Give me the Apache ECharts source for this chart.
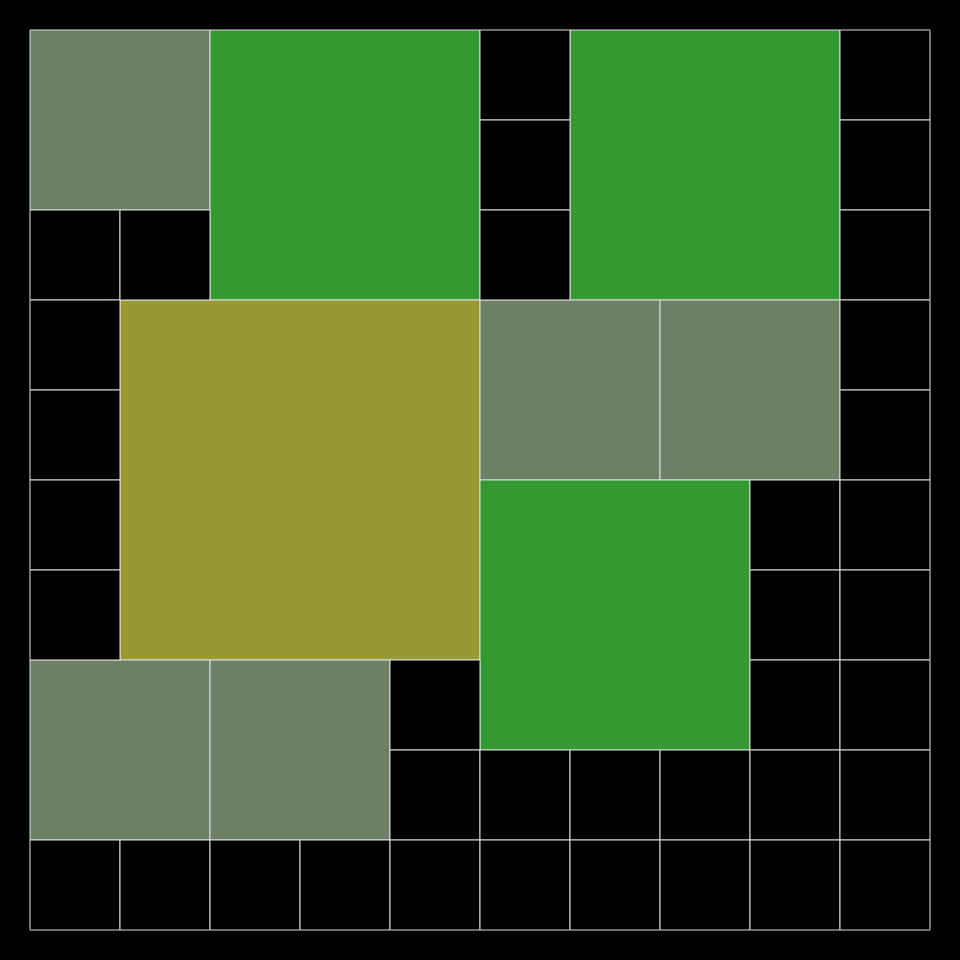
<!DOCTYPE html>
<html>
<head>
<meta charset="utf-8">
<script src="https://cdn.jsdelivr.net/npm/echarts@6/dist/echarts.min.js"></script>
<style>html,body{margin:0;padding:0;background:#000;}#c{width:960px;height:960px;}</style>
</head>
<body>
<div id="c"></div>
<script>
// Blocks: column, row (from top), width, height (in grid cells), kind
const blockCol  = [0, 2, 6, 1, 5, 7, 5, 0, 2];
const blockRow  = [0, 0, 0, 3, 3, 3, 5, 7, 7];
const blockW    = [2, 3, 3, 4, 2, 2, 3, 2, 2];
const blockH    = [2, 3, 3, 4, 2, 2, 3, 2, 2];
const blockKind = ['gray', 'green', 'green', 'olive', 'gray', 'gray', 'green', 'gray', 'gray'];

// Single empty (black) cells: column, row
const emptyCol = [5, 9, 5, 9, 0, 1, 5, 9, 0, 9, 0, 9, 0, 8, 9, 0, 8, 9, 4, 8, 9, 4, 5, 6, 7, 8, 9, 0, 1, 2, 3, 4, 5, 6, 7, 8, 9];
const emptyRow = [0, 0, 1, 1, 2, 2, 2, 2, 3, 3, 4, 4, 5, 5, 5, 6, 6, 6, 7, 7, 7, 8, 8, 8, 8, 8, 8, 9, 9, 9, 9, 9, 9, 9, 9, 9, 9];

const kindColor = { gray: '#6c8066', green: '#339933', olive: '#999933', empty: '#000000' };

const data = [];
for (let i = 0; i < blockCol.length; i++) {
  data.push([blockCol[i], blockRow[i], blockW[i], blockH[i], blockKind[i]]);
}
for (let i = 0; i < emptyCol.length; i++) {
  data.push([emptyCol[i], emptyRow[i], 1, 1, 'empty']);
}

const chart = echarts.init(document.getElementById('c'));
chart.setOption({
  backgroundColor: '#000000',
  animation: false,
  grid: { left: 30, top: 30, width: 900, height: 900 },
  xAxis: { type: 'value', min: 0, max: 10, show: false },
  yAxis: { type: 'value', min: 0, max: 10, inverse: true, show: false },
  series: [{
    type: 'custom',
    data: data,
    encode: { x: [0], y: [1] },
    renderItem: function (params, api) {
      const c = api.value(0), r = api.value(1), w = api.value(2), h = api.value(3);
      const kind = data[params.dataIndex][4];
      const p0 = api.coord([c, r]);
      const p1 = api.coord([c + w, r + h]);
      return {
        type: 'rect',
        shape: { x: p0[0], y: p0[1], width: p1[0] - p0[0], height: p1[1] - p0[1] },
        style: { fill: kindColor[kind], stroke: '#dddddd', lineWidth: 1 }
      };
    }
  }]
});
</script>
</body>
</html>
